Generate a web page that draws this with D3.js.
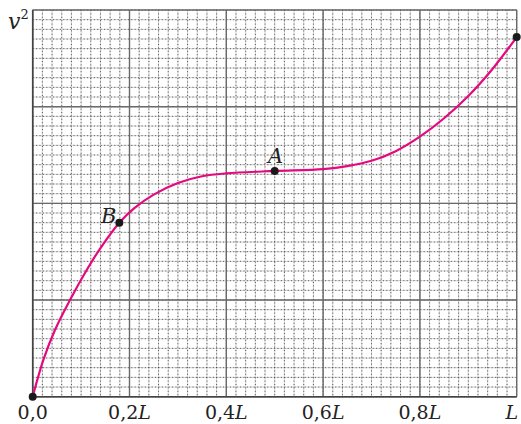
<!DOCTYPE html>
<html>
<head>
<meta charset="utf-8">
<script src="https://cdn.jsdelivr.net/npm/d3@7"></script>
<style>
  body { margin: 0; background: #fff; }
</style>
</head>
<body>
<div id="chart"></div>
<script>
// position along the rope, in units of L
var posX = [0, 0.022, 0.046, 0.077, 0.108, 0.139, 0.179, 0.21, 0.25, 0.30, 0.35, 0.40, 0.50, 0.60, 0.65, 0.70, 0.75, 0.80, 0.85, 0.90, 0.95, 1.0];
// v^2 in major grid units
var velSq = [0, 0.38, 0.69, 1.0, 1.28, 1.53, 1.80, 1.95, 2.09, 2.21, 2.28, 2.31, 2.335, 2.355, 2.385, 2.44, 2.54, 2.69, 2.88, 3.11, 3.39, 3.72];
var markX = [0, 0.179, 0.5, 1.0];
var markY = [0, 1.80, 2.335, 3.72];
var markNames = ["", "B", "A", ""];
var tickVals = [0, 0.2, 0.4, 0.6, 0.8, 1.0];
var tickNum = ["0,0", "0,2", "0,4", "0,6", "0,8", ""];

var W = 521, H = 424;
var serif = "'DejaVu Serif', 'Liberation Serif', serif";
var x = d3.scaleLinear().domain([0, 1]).range([32.7, 516.7]);
var y = d3.scaleLinear().domain([0, 4]).range([396.7, 10]);

var svg = d3.select("#chart").append("svg")
    .attr("width", W)
    .attr("height", H);

//----------fine grid----------
var fineX = d3.range(0, 1.0001, 0.02), fineY = d3.range(0, 4.0001, 0.1);
var gFine = svg.append("g").attr("class", "fine");
gFine.selectAll("line.vx").data(fineX).enter().append("line")
    .attr("x1", function (d) { return x(d); }).attr("x2", function (d) { return x(d); })
    .attr("y1", y(4)).attr("y2", y(0))
    .attr("stroke", "#d2d2d2").attr("stroke-width", 1);
gFine.selectAll("line.hy").data(fineY).enter().append("line")
    .attr("y1", function (d) { return y(d); }).attr("y2", function (d) { return y(d); })
    .attr("x1", x(0)).attr("x2", x(1))
    .attr("stroke", "#d2d2d2").attr("stroke-width", 1);
gFine.selectAll("line.vx2").data(fineX).enter().append("line")
    .attr("x1", function (d) { return x(d); }).attr("x2", function (d) { return x(d); })
    .attr("y1", y(4)).attr("y2", y(0))
    .attr("stroke", "#333").attr("stroke-width", 0.8)
    .attr("stroke-dasharray", "1,2.4");
gFine.selectAll("line.hy2").data(fineY).enter().append("line")
    .attr("y1", function (d) { return y(d); }).attr("y2", function (d) { return y(d); })
    .attr("x1", x(0)).attr("x2", x(1))
    .attr("stroke", "#333").attr("stroke-width", 0.8)
    .attr("stroke-dasharray", "1,2.4");

//----------major grid----------
var gMaj = svg.append("g").attr("class", "major");
gMaj.selectAll("line.mx").data(tickVals).enter().append("line")
    .attr("x1", function (d) { return x(d); }).attr("x2", function (d) { return x(d); })
    .attr("y1", y(4)).attr("y2", y(0))
    .attr("stroke", "#6a6a6a").attr("stroke-width", 1.4);
gMaj.selectAll("line.my").data(d3.range(0, 5)).enter().append("line")
    .attr("y1", function (d) { return y(d); }).attr("y2", function (d) { return y(d); })
    .attr("x1", x(0)).attr("x2", x(1))
    .attr("stroke", "#6a6a6a").attr("stroke-width", 1.4);
// axes a little darker
svg.append("line").attr("x1", x(0)).attr("x2", x(1)).attr("y1", y(0)).attr("y2", y(0))
    .attr("stroke", "#444").attr("stroke-width", 1.6);
svg.append("line").attr("x1", x(0)).attr("x2", x(0)).attr("y1", y(0)).attr("y2", y(4))
    .attr("stroke", "#444").attr("stroke-width", 1.6);

//----------curve----------
var pts = posX.map(function (d, i) { return [d, velSq[i]]; });
var line = d3.line()
    .x(function (d) { return x(d[0]); })
    .y(function (d) { return y(d[1]); })
    .curve(d3.curveCatmullRom.alpha(0.5));
svg.append("path").datum(pts)
    .attr("d", line)
    .attr("fill", "none")
    .attr("stroke", "#e5097f")
    .attr("stroke-width", 2.2);

//----------points----------
svg.selectAll("circle.pt").data(markX).enter().append("circle")
    .attr("cx", function (d) { return x(d); })
    .attr("cy", function (d, i) { return y(markY[i]); })
    .attr("r", 4)
    .attr("fill", "#1a1a1a");
// A above, B to the left
svg.append("text").attr("x", x(markX[2]) + 1).attr("y", y(markY[2]) - 8)
    .attr("font-family", serif).attr("fill", "#222")
    .attr("text-anchor", "middle").attr("font-style", "italic").attr("font-size", 21)
    .text(markNames[2]);
svg.append("text").attr("x", x(markX[1]) - 3).attr("y", y(markY[1]) + 0)
    .attr("font-family", serif).attr("fill", "#222")
    .attr("text-anchor", "end").attr("font-style", "italic").attr("font-size", 21)
    .text(markNames[1]);

//----------labels----------
var gTick = svg.append("g").attr("class", "ticks");
tickVals.forEach(function (d, i) {
    var last = i === tickVals.length - 1;
    var t = gTick.append("text")
        .attr("x", last ? W - 3 : x(d))
        .attr("y", 419)
        .attr("font-family", serif).attr("fill", "#222")
        .attr("text-anchor", last ? "end" : "middle")
        .attr("font-size", 19);
    t.append("tspan").text(tickNum[i]);
    if (i > 0) t.append("tspan").attr("font-style", "italic").text("L");
});

var vLab = svg.append("text").attr("x", 8).attr("y", 29)
    .attr("font-family", serif).attr("fill", "#222").attr("font-size", 22);
vLab.append("tspan").attr("font-style", "italic").text("v");
vLab.append("tspan").attr("font-size", 13).attr("dy", -10).text("2");
</script>
</body>
</html>
